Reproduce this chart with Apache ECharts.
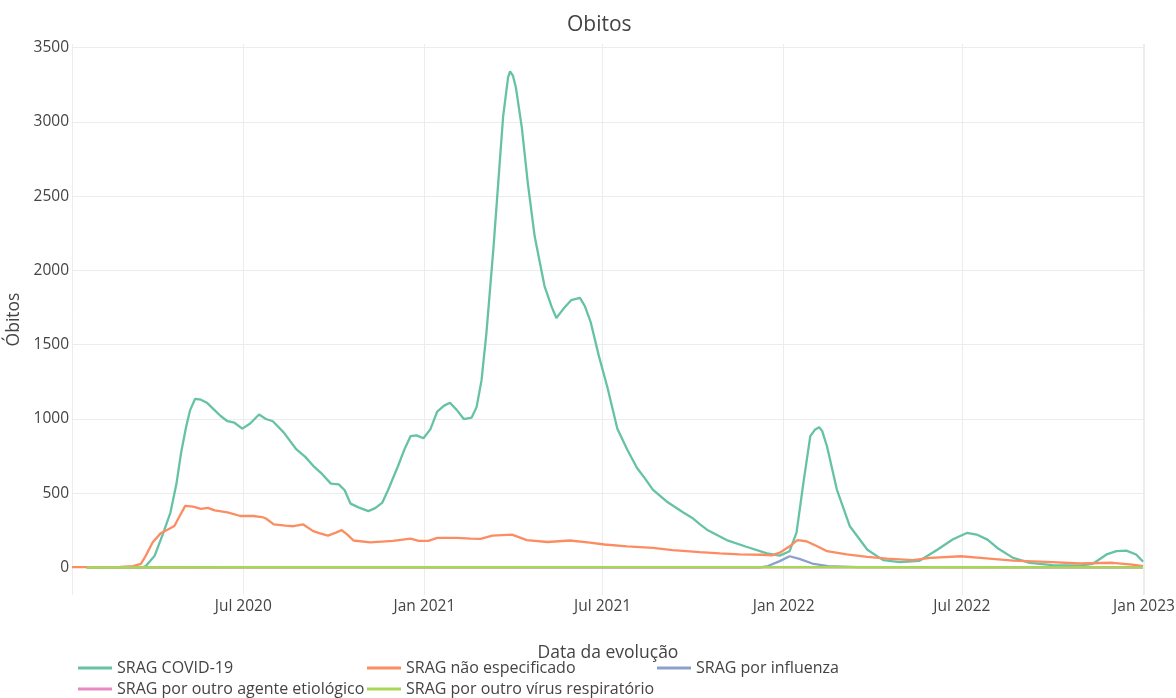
<!DOCTYPE html>
<html>
<head>
<meta charset="utf-8">
<title>Obitos</title>
<script src="https://cdn.jsdelivr.net/npm/echarts@6/dist/echarts.min.js"></script>
<style>
html, body { margin: 0; padding: 0; background: #fff; }
#main { width: 1176px; height: 698px; }
</style>
</head>
<body>
<div id="main"></div>
<script>
// SRAG COVID-19
var covidDates = ['2020-01-24','2020-03-20','2020-03-24','2020-04-02','2020-04-10','2020-04-18','2020-04-24','2020-04-29',
	'2020-05-04','2020-05-08','2020-05-13','2020-05-19','2020-05-25','2020-06-01','2020-06-08','2020-06-15','2020-06-22',
	'2020-06-30','2020-07-08','2020-07-17','2020-07-24','2020-07-31','2020-08-11','2020-08-24','2020-09-02','2020-09-10',
	'2020-09-19','2020-09-28','2020-10-06','2020-10-12','2020-10-18','2020-10-26','2020-11-05','2020-11-12','2020-11-19',
	'2020-11-25','2020-12-05','2020-12-12','2020-12-18','2020-12-24','2020-12-31','2021-01-07','2021-01-14','2021-01-21',
	'2021-01-27','2021-02-03','2021-02-10','2021-02-18','2021-02-23','2021-02-28','2021-03-05','2021-03-12','2021-03-17',
	'2021-03-22','2021-03-27','2021-03-29','2021-04-01','2021-04-04','2021-04-10','2021-04-16','2021-04-23','2021-05-03',
	'2021-05-10','2021-05-15','2021-05-22','2021-05-30','2021-06-08','2021-06-13','2021-06-19','2021-06-27','2021-07-06',
	'2021-07-16','2021-07-26','2021-08-05','2021-08-13','2021-08-21','2021-09-04','2021-09-21','2021-10-01','2021-10-08',
	'2021-10-15','2021-11-04','2021-11-24','2021-12-15','2021-12-28','2022-01-07','2022-01-14','2022-01-21','2022-01-28',
	'2022-02-02','2022-02-06','2022-02-09','2022-02-14','2022-02-24','2022-03-09','2022-03-27','2022-04-12','2022-04-29',
	'2022-05-19','2022-06-06','2022-06-22','2022-07-06','2022-07-16','2022-07-27','2022-08-06','2022-08-22','2022-09-08',
	'2022-10-01','2022-10-29','2022-11-11','2022-11-25','2022-12-05','2022-12-15','2022-12-25','2023-01-01'];
var covidVals = [0,0,10,80,220,370,560,780,
	950,1060,1135,1130,1110,1065,1020,985,975,
	935,970,1030,1000,985,910,795,745,685,
	630,565,560,520,430,405,380,400,435,
	520,680,800,885,890,870,930,1050,1090,
	1110,1060,1000,1010,1080,1260,1580,2140,2590,
	3040,3300,3340,3310,3230,2960,2590,2230,1895,
	1760,1680,1740,1800,1815,1760,1650,1430,1210,
	935,795,670,600,525,445,370,330,290,
	255,185,140,95,80,110,235,570,885,
	930,945,920,815,525,280,120,50,37,
	45,120,190,233,222,188,132,65,31,
	16,13,25,88,110,114,88,40];

// SRAG não especificado
var naoEspDates = ['2020-01-09','2020-02-07','2020-02-27','2020-03-11','2020-03-19','2020-03-24','2020-03-31','2020-04-08',
	'2020-04-15','2020-04-22','2020-04-26','2020-05-03','2020-05-11','2020-05-19','2020-05-26','2020-06-02','2020-06-15',
	'2020-06-28','2020-07-11','2020-07-20','2020-07-24','2020-08-01','2020-08-13','2020-08-21','2020-08-31','2020-09-10',
	'2020-09-17','2020-09-25','2020-10-03','2020-10-09','2020-10-15','2020-10-21','2020-11-07','2020-11-30','2020-12-18',
	'2020-12-26','2021-01-05','2021-01-14','2021-02-03','2021-02-17','2021-02-27','2021-03-11','2021-03-31','2021-04-15',
	'2021-05-06','2021-05-29','2021-06-18','2021-07-03','2021-07-26','2021-08-21','2021-09-10','2021-10-08','2021-10-28',
	'2021-11-17','2021-12-10','2021-12-20','2021-12-28','2022-01-07','2022-01-15','2022-01-24','2022-02-04','2022-02-14',
	'2022-03-06','2022-03-27','2022-04-16','2022-05-12','2022-05-30','2022-06-30','2022-07-20','2022-08-22','2022-09-25',
	'2022-10-29','2022-12-01','2022-12-21','2023-01-01'];
var naoEspVals = [3,3,5,10,25,80,170,230,
	255,280,330,415,410,395,402,385,372,
	347,347,340,330,290,282,278,290,245,
	230,215,235,252,220,182,170,180,195,
	180,180,200,200,195,193,215,222,184,
	172,182,168,155,143,132,117,103,95,
	88,86,82,100,143,185,177,143,110,
	88,72,60,50,65,76,65,47,38,
	27,32,20,10];

// SRAG por influenza
var influDates = ['2020-01-24','2021-12-08','2021-12-16','2021-12-28','2022-01-07','2022-01-17','2022-01-30','2022-02-15','2022-03-18','2023-01-01'];
var influVals = [1,1,10,43,76,58,27,10,3,2];

// SRAG por outro agente etiológico
var outroAgDates = ['2020-01-24','2020-07-01','2021-01-01','2021-07-01','2022-01-01','2022-07-01','2023-01-01'];
var outroAgVals = [0,2,2,2,2,2,1];

// SRAG por outro vírus respiratório
var outroVirDates = ['2020-01-24','2020-07-01','2021-01-01','2021-07-01','2022-01-01','2022-07-01','2023-01-01'];
var outroVirVals = [0,2,2,3,3,2,1];

var seriesNames = ['SRAG COVID-19', 'SRAG não especificado', 'SRAG por influenza',
	'SRAG por outro agente etiológico', 'SRAG por outro vírus respiratório'];
var colors = ['#66c2a5', '#fc8d62', '#8da0cb', '#e78ac3', '#a6d854'];
var monthNames = ['Jan','Feb','Mar','Apr','May','Jun','Jul','Aug','Sep','Oct','Nov','Dec'];

function pairs(dates, vals) {
	var out = [];
	for (var i = 0; i < dates.length; i++) {
		out.push([dates[i], vals[i]]);
	}
	return out;
}

var allData = [
	pairs(covidDates, covidVals),
	pairs(naoEspDates, naoEspVals),
	pairs(influDates, influVals),
	pairs(outroAgDates, outroAgVals),
	pairs(outroVirDates, outroVirVals)
];

var font = '"Open Sans", Verdana, Arial, sans-serif';
var legendBase = {
	orient: 'vertical',
	top: 660,
	padding: 0,
	itemGap: 5,
	icon: 'rect',
	itemWidth: 34,
	itemHeight: 3,
	textStyle: { color: '#444', fontSize: 16, fontFamily: font }
};

var myChart = echarts.init(document.getElementById('main'));
var option = {
	animation: false,
	color: colors,
	title: {
		text: 'Obitos',
		left: 562,
		top: 10,
		textStyle: { color: '#444', fontSize: 21, fontWeight: 'normal', fontFamily: font }
	},
	legend: [
		Object.assign({}, legendBase, { left: 78, data: [seriesNames[0], seriesNames[3]] }),
		Object.assign({}, legendBase, { left: 367, data: [seriesNames[1], seriesNames[4]] }),
		Object.assign({}, legendBase, { left: 657, data: [seriesNames[2]] })
	],
	grid: {
		left: 72,
		right: 32,
		top: 44,
		bottom: 103,
		outerBoundsMode: 'none'
	},
	xAxis: {
		type: 'time',
		min: '2020-01-09',
		max: '2023-01-02',
		splitNumber: 6,
		name: 'Data da evolução',
		nameLocation: 'middle',
		nameGap: 49,
		nameTextStyle: { color: '#444', fontSize: 17.5, fontFamily: font },
		axisLine: { show: false },
		axisTick: { show: false },
		axisLabel: {
			color: '#444',
			fontSize: 15.5,
			fontFamily: font,
			margin: 4,
			hideOverlap: false,
			showMaxLabel: true,
			formatter: function(v) {
				var d = new Date(v);
				return monthNames[d.getMonth()] + ' ' + d.getFullYear();
			}
		},
		splitLine: { show: true, lineStyle: { color: '#ececec', width: 1 } }
	},
	yAxis: {
		type: 'value',
		min: -185,
		max: 3525,
		splitNumber: 7,
		name: 'Óbitos',
		nameLocation: 'middle',
		nameGap: 46,
		nameTextStyle: { color: '#444', fontSize: 17.5, fontFamily: font },
		axisLine: { show: false },
		axisTick: { show: false },
		axisLabel: {
			color: '#444',
			fontSize: 15.5,
			fontFamily: font,
			margin: 3,
			showMinLabel: false,
			showMaxLabel: false,
			formatter: function(v) { return String(v); }
		},
		splitLine: { show: true, showMinLine: false, showMaxLine: false, lineStyle: { color: '#ececec', width: 1 } }
	},
	series: seriesNames.map(function(name, i) {
		return {
			name: name,
			type: 'line',
			showSymbol: false,
			symbol: 'none',
			data: allData[i],
			lineStyle: { width: 2.3, color: colors[i] },
			itemStyle: { color: colors[i] }
		};
	})
};
myChart.setOption(option);
</script>
</body>
</html>
